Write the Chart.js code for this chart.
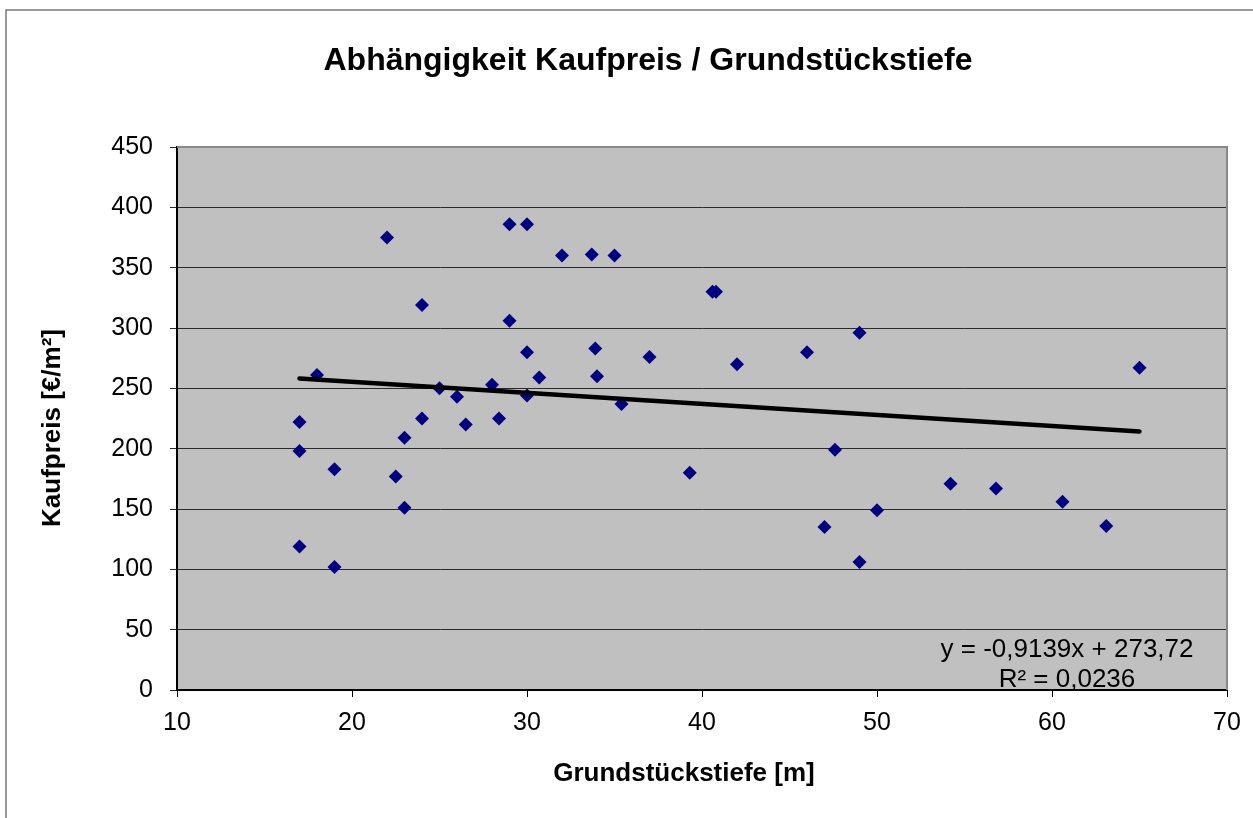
<!DOCTYPE html>
<html lang="de">
<head>
<meta charset="utf-8">
<title>Abhängigkeit Kaufpreis / Grundstückstiefe</title>
<script src="https://cdn.jsdelivr.net/npm/chart.js@4/dist/chart.umd.min.js"></script>
<style>
  html, body { margin: 0; padding: 0; background: #fff; }
  #wrap { width: 1253px; height: 818px; }
</style>
</head>
<body>
<div id="wrap"><canvas id="chart" width="1253" height="818"></canvas></div>
<script>
// ── Data ──────────────────────────────────────────────────────────────────────
const tiefe = [
  17, 17, 17, 18, 19, 19, 22, 22.5, 23, 23,
  24, 24, 25, 26, 26.5, 28, 28.4, 29, 29, 30,
  30, 30, 30.7, 32, 33.7, 33.9, 34, 35, 35.4, 37,
  39.3, 40.6, 40.8, 42, 46, 47, 47.6, 49, 49, 50,
  54.2, 56.8, 60.6, 63.1, 65
];
const kaufpreis = [
  222, 198, 119, 261, 183, 102, 375, 177, 209, 151,
  319, 225, 250, 243, 220, 253, 225, 386, 306, 386,
  280, 244, 259, 360, 361, 283, 260, 360, 237, 276,
  180, 330, 330, 270, 280, 135, 199, 296, 106, 149,
  171, 167, 156, 136, 267
];
const xTicks = [10, 20, 30, 40, 50, 60, 70];
const yTicks = [0, 50, 100, 150, 200, 250, 300, 350, 400, 450];

// Excel-Trendlinie (linear)
const slope = -0.9139;
const intercept = 273.72;
const trendLabel = ["y = -0,9139x + 273,72", "R² = 0,0236"];

const FONT = '"Liberation Sans", Arial, sans-serif';

const points = tiefe.map((x, i) => ({ x, y: kaufpreis[i] }));
const xMin = Math.min(...tiefe), xMax = Math.max(...tiefe);
const trend = [xMin, xMax].map(x => ({ x, y: slope * x + intercept }));

// ── Decorations ───────────────────────────────────────────────────────────────
const deco = {
  id: "deco",
  beforeDraw(chart) {
    const { ctx, chartArea: a } = chart;
    ctx.save();
    ctx.fillStyle = "#fff";
    ctx.fillRect(0, 0, chart.width, chart.height);
    ctx.fillStyle = "#c0c0c0";
    ctx.fillRect(a.left, a.top, a.right - a.left, a.bottom - a.top);
    ctx.restore();
  },
  beforeDatasetsDraw(chart) {
    const { ctx, chartArea: a } = chart;
    ctx.save();
    ctx.strokeStyle = "#888";
    ctx.lineWidth = 2;
    ctx.beginPath();
    ctx.moveTo(a.left, a.top);
    ctx.lineTo(a.right, a.top);
    ctx.lineTo(a.right, a.bottom);
    ctx.stroke();
    ctx.restore();
  },
  afterDraw(chart) {
    const { ctx } = chart;
    ctx.save();
    // outer frame
    ctx.strokeStyle = "#777";
    ctx.lineWidth = 1.5;
    ctx.beginPath();
    ctx.moveTo(6, 818);
    ctx.lineTo(6, 10);
    ctx.lineTo(1253, 10);
    ctx.stroke();

    ctx.fillStyle = "#000";
    ctx.textAlign = "center";
    ctx.textBaseline = "alphabetic";

    ctx.font = `bold 32px ${FONT}`;
    ctx.fillText("Abhängigkeit Kaufpreis / Grundstückstiefe", 648, 70);

    ctx.font = `bold 26px ${FONT}`;
    ctx.fillText("Grundstückstiefe [m]", 684, 781);

    ctx.save();
    ctx.translate(60, 428);
    ctx.rotate(-Math.PI / 2);
    ctx.fillText("Kaufpreis [€/m²]", 0, 0);
    ctx.restore();

    ctx.font = `26px ${FONT}`;
    ctx.fillText(trendLabel[0], 1067, 657);
    ctx.fillText(trendLabel[1], 1067, 687);
    ctx.restore();
  }
};

// ── Chart ─────────────────────────────────────────────────────────────────────
new Chart(document.getElementById("chart"), {
  type: "scatter",
  data: {
    datasets: [
      {
        label: "Kaufpreis",
        data: points,
        pointStyle: "rectRot",
        pointRadius: 7,
        pointBackgroundColor: "#000080",
        pointBorderColor: "#000080",
        pointBorderWidth: 0,
        showLine: false,
        order: 2
      },
      {
        label: "Linear",
        data: trend,
        type: "line",
        borderColor: "#000",
        borderWidth: 4.5,
        borderCapStyle: "round",
        pointRadius: 0,
        fill: false,
        order: 1
      }
    ]
  },
  options: {
    responsive: false,
    animation: false,
    layout: { padding: { top: 147, left: 0, right: 26, bottom: 0 } },
    plugins: {
      legend: { display: false },
      title: { display: false },
      tooltip: { enabled: false }
    },
    scales: {
      x: {
        type: "linear",
        min: xTicks[0],
        max: xTicks[xTicks.length - 1],
        afterBuildTicks: s => { s.ticks = xTicks.map(v => ({ value: v })); },
        afterFit: s => { s.height = 128; },
        border: { display: true, color: "#000", width: 2 },
        grid: { drawOnChartArea: false, drawTicks: true, tickLength: 7, color: "#000", lineWidth: 1 },
        ticks: { color: "#000", padding: 11, font: { family: FONT, size: 25 } }
      },
      y: {
        type: "linear",
        min: yTicks[0],
        max: yTicks[yTicks.length - 1],
        afterBuildTicks: s => { s.ticks = yTicks.map(v => ({ value: v })); },
        afterFit: s => { s.width = 177; },
        border: { display: true, color: "#000", width: 2 },
        grid: { drawOnChartArea: true, drawTicks: true, tickLength: 7, color: "#2a2a2a", lineWidth: 1 },
        ticks: { color: "#000", padding: 17, font: { family: FONT, size: 25 } }
      }
    }
  },
  plugins: [deco]
});
</script>
</body>
</html>
